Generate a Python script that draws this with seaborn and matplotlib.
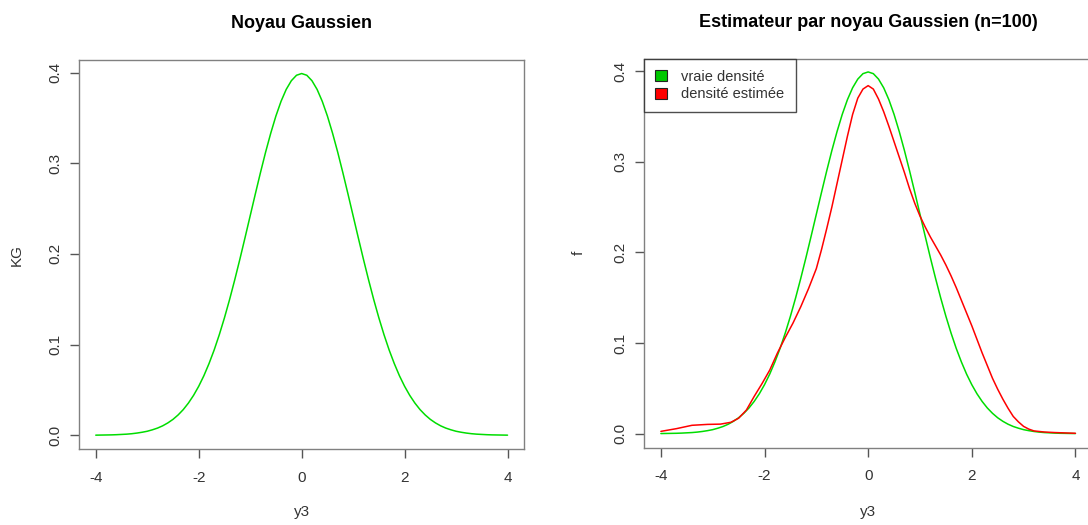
import numpy as np
import pandas as pd
import matplotlib
matplotlib.use("Agg")
import matplotlib.pyplot as plt
from matplotlib.patches import Patch
import seaborn as sns

# ---- data -------------------------------------------------------------
# evaluation grid for the Gaussian kernel / true density
grid_y3 = np.linspace(-4, 4, 81)

# Gaussian kernel KG(y3)
kernel_kg = [
    0.0001, 0.0002, 0.0003, 0.0004, 0.0006, 0.0009, 0.0012, 0.0017, 0.0024, 0.0033,
    0.0044, 0.0060, 0.0079, 0.0104, 0.0136, 0.0175, 0.0224, 0.0283, 0.0355, 0.0440,
    0.0540, 0.0656, 0.0790, 0.0940, 0.1109, 0.1295, 0.1497, 0.1714, 0.1942, 0.2179,
    0.2420, 0.2661, 0.2897, 0.3123, 0.3332, 0.3521, 0.3683, 0.3814, 0.3910, 0.3970,
    0.3989,
    0.3970, 0.3910, 0.3814, 0.3683, 0.3521, 0.3332, 0.3123, 0.2897, 0.2661, 0.2420,
    0.2179, 0.1942, 0.1714, 0.1497, 0.1295, 0.1109, 0.0940, 0.0790, 0.0656, 0.0540,
    0.0440, 0.0355, 0.0283, 0.0224, 0.0175, 0.0136, 0.0104, 0.0079, 0.0060, 0.0044,
    0.0033, 0.0024, 0.0017, 0.0012, 0.0009, 0.0006, 0.0004, 0.0003, 0.0002, 0.0001,
]

# true density of the sample (standard normal)
true_density = list(kernel_kg)

# kernel density estimate from the n=100 sample
est_y3 = [
    -4.0, -3.7, -3.4, -3.1, -2.85, -2.65, -2.5, -2.35, -2.2, -2.05,
    -1.9, -1.75, -1.6, -1.45, -1.3, -1.15, -1.0, -0.9, -0.8, -0.7,
    -0.6, -0.5, -0.4, -0.3, -0.2, -0.1, 0.0, 0.1, 0.2, 0.3,
    0.4, 0.5, 0.6, 0.7, 0.8, 0.9, 1.0, 1.1, 1.2, 1.3,
    1.4, 1.5, 1.6, 1.7, 1.8, 1.9, 2.0, 2.1, 2.2, 2.3,
    2.4, 2.5, 2.6, 2.7, 2.8, 2.9, 3.0, 3.1, 3.2, 3.4,
    3.6, 3.8, 4.0,
]
est_density = [
    0.0025, 0.0055, 0.0092, 0.0102, 0.0105, 0.0125, 0.0170, 0.0260, 0.0410, 0.0550,
    0.0700, 0.0890, 0.1060, 0.1220, 0.1400, 0.1600, 0.1820, 0.2030, 0.2260, 0.2500,
    0.2760, 0.3020, 0.3280, 0.3520, 0.3700, 0.3800, 0.3838, 0.3800, 0.3690, 0.3550,
    0.3390, 0.3220, 0.3050, 0.2880, 0.2700, 0.2540, 0.2400, 0.2280, 0.2170, 0.2070,
    0.1970, 0.1860, 0.1740, 0.1610, 0.1470, 0.1330, 0.1190, 0.1040, 0.0890, 0.0750,
    0.0610, 0.0490, 0.0380, 0.0280, 0.0190, 0.0130, 0.0080, 0.0050, 0.0030, 0.0018,
    0.0012, 0.0008, 0.0004,
]

x_ticks = [-4, -2, 0, 2, 4]
x_tick_labels = ["-4", "-2", "0", "2", "4"]
y_ticks = [0.0, 0.1, 0.2, 0.3, 0.4]
y_tick_labels = ["0.0", "0.1", "0.2", "0.3", "0.4"]

legend_labels = ["vraie densité", "densité estimée"]

# ---- style ------------------------------------------------------------
sns.set_theme(style="white")
plt.rcParams["font.family"] = ["Liberation Sans", "DejaVu Sans"]

GREEN = "#00dd00"
RED = "#ff0000"
LEGEND_GREEN = "#00c800"
FRAME = "#808080"
TEXT = "#333333"

fig = plt.figure(figsize=(10.88, 5.25), dpi=100)

W, H = 1088.0, 525.0


def make_axes(left_px, right_px, top_px, bottom_px):
    return fig.add_axes([left_px / W, 1 - bottom_px / H,
                         (right_px - left_px) / W, (bottom_px - top_px) / H])


ax1 = make_axes(79.3, 524.0, 60.3, 449.3)
ax2 = make_axes(644.3, 1092.0, 58.7, 447.7)


def r_style(ax, title, ylabel, ylabel_x_px):
    ax.set_xlim(-4.32, 4.32)
    ax.set_ylim(-0.0155, 0.4135)
    ax.set_xticks(x_ticks)
    ax.set_xticklabels(x_tick_labels)
    ax.set_yticks(y_ticks)
    ax.set_yticklabels(y_tick_labels, rotation=90, va="center")
    for s in ax.spines.values():
        s.set_visible(True)
        s.set_color(FRAME)
        s.set_linewidth(1.0)
    ax.tick_params(axis="both", which="major", direction="out", length=6.5,
                   width=1.0, color="#555555", labelsize=11, labelcolor=TEXT,
                   bottom=True, left=True)
    ax.tick_params(axis="x", pad=9)
    ax.tick_params(axis="y", pad=6)
    ax.grid(False)

    bbox = ax.get_position()
    width_px = bbox.width * W
    height_px = bbox.height * H
    left_px = bbox.x0 * W
    top_px = (1 - bbox.y1) * H
    bottom_px = (1 - bbox.y0) * H

    ax.set_xlabel("y3", fontsize=11, color=TEXT)
    ax.xaxis.set_label_coords(0.5, -(512 - bottom_px) / height_px)
    ax.xaxis.label.set_va("center")

    ax.set_ylabel(ylabel, fontsize=11, color=TEXT)
    ax.yaxis.set_label_coords((ylabel_x_px - left_px) / width_px, 0.5)
    ax.yaxis.label.set_va("center")

    ax.set_title(title, fontsize=13, fontweight="bold", color="black",
                 y=1 + (top_px - 23) / height_px, va="center", pad=0)


# left: Gaussian kernel
sns.lineplot(x=grid_y3, y=kernel_kg, ax=ax1, color=GREEN, linewidth=1.1,
             estimator=None, sort=False)
r_style(ax1, "Noyau Gaussien", "KG", 17)

# right: true density vs kernel estimate
sns.lineplot(x=grid_y3, y=true_density, ax=ax2, color=GREEN, linewidth=1.1,
             estimator=None, sort=False)
sns.lineplot(x=est_y3, y=est_density, ax=ax2, color=RED, linewidth=1.1,
             estimator=None, sort=False)
r_style(ax2, "Estimateur par noyau Gaussien (n=100)", "f", 579)

handles = [Patch(facecolor=LEGEND_GREEN, edgecolor="#222222", linewidth=0.8),
           Patch(facecolor=RED, edgecolor="#222222", linewidth=0.8)]
leg = ax2.legend(handles, legend_labels, loc="upper left", bbox_to_anchor=(0, 1),
                 borderaxespad=0, fancybox=False, frameon=True, fontsize=10.5,
                 handlelength=0.8, handleheight=0.8, handletextpad=1.0,
                 labelspacing=0.25, borderpad=0.75)
leg.get_frame().set_edgecolor("#222222")
leg.get_frame().set_linewidth(1.0)
for t in leg.get_texts():
    t.set_color(TEXT)

fig.savefig("out.png", dpi=100)
